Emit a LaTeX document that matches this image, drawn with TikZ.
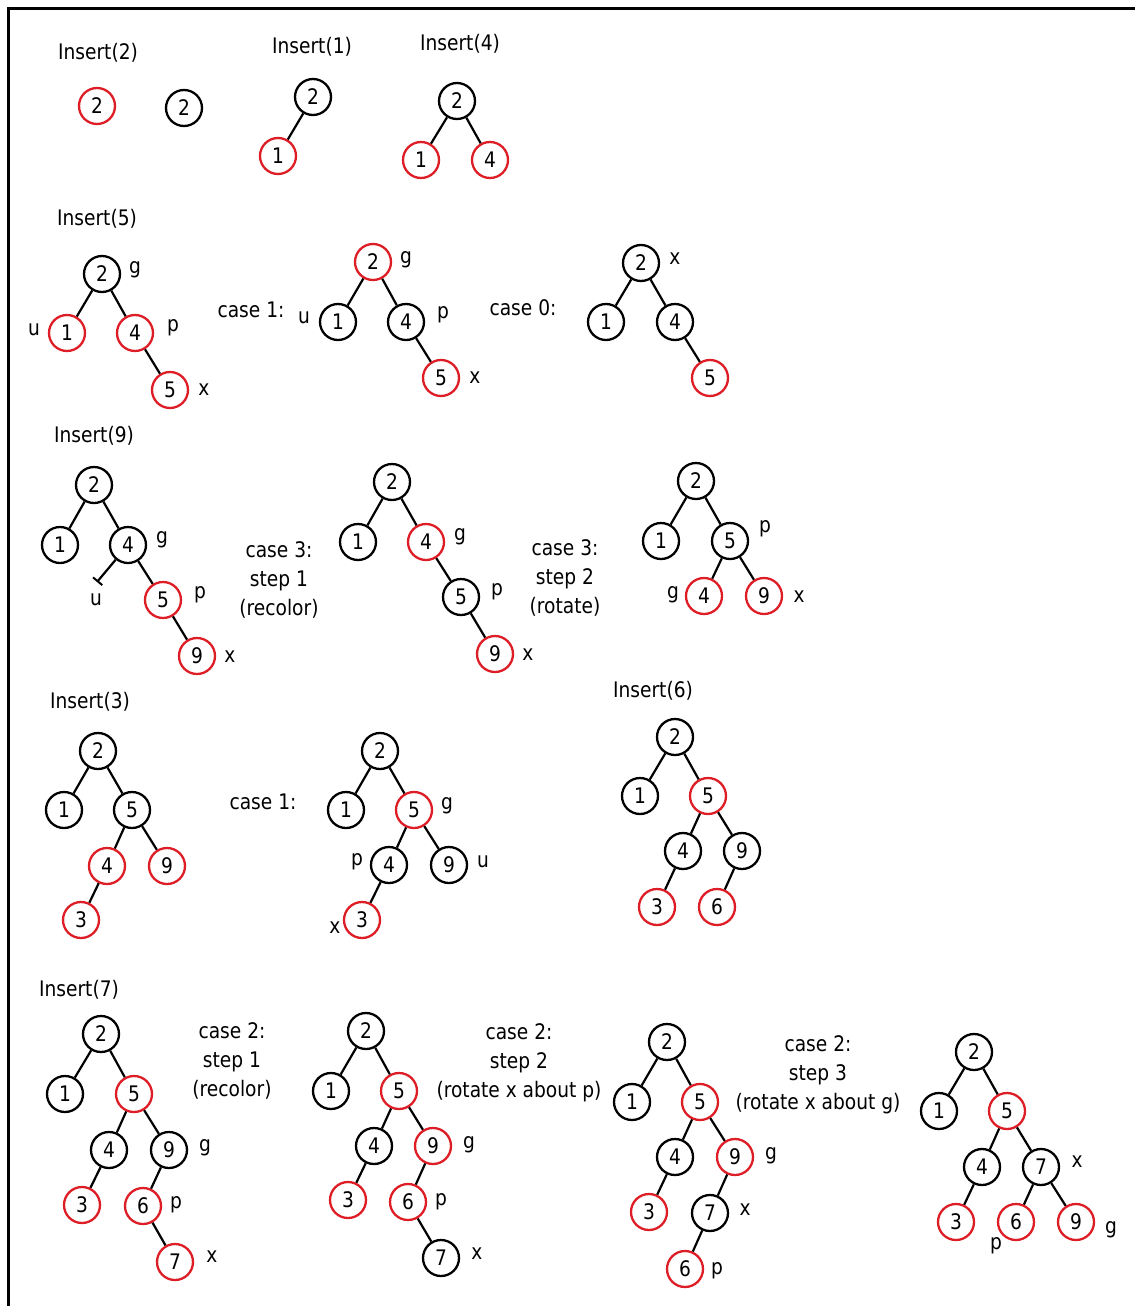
\documentclass[tikz,border=0pt]{standalone}
\usepackage{fontspec}
\setmainfont[FakeStretch=0.87]{DejaVu Sans}
\usetikzlibrary{arrows.meta}
\begin{document}
\begin{tikzpicture}[x=0.5pt,y=-0.5pt,
  bnode/.style={circle,draw=drawColor,line width=1.15pt,minimum size=18pt,inner sep=0pt,font=\fontsize{10.7}{12}\selectfont},
  rnode/.style={bnode,draw=redColor},
  lnk/.style={draw=drawColor,line width=1.1pt,line join=round},
  lbl/.style={inner sep=0pt,font=\fontsize{10.7}{12}\selectfont},
  txt/.style={inner sep=0pt,align=center,font=\fontsize{10.7}{14.5}\selectfont}]
\definecolor{fillColor}{RGB}{255,255,255}
\definecolor{drawColor}{RGB}{0,0,0}
\definecolor{redColor}{RGB}{222,30,38}
\path[use as bounding box,fill=fillColor] (0,0) rectangle (1135,1306);

\path[draw=drawColor,line width=1.5pt] (8,1306) -- (8,8) -- (1135,8);

\node[lbl] (tIns2) at ( 98, 53) {Insert(2)};
\node[rnode] (a2) at ( 97,106) {2};
\node[bnode] (b2) at (184,108) {2};

\node[lbl] (tIns1) at (312, 47) {Insert(1)};
\node[bnode] (c2) at (313, 97) {2};
\node[rnode] (c1) at (278,156) {1};
\path[lnk] (c2) -- (c1);

\node[lbl] (tIns4) at (460, 44) {Insert(4)};
\node[bnode] (d2) at (457,101) {2};
\node[rnode] (d1) at (421,160) {1};
\node[rnode] (d4) at (490,160) {4};
\path[lnk] (d2) -- (d1);
\path[lnk] (d2) -- (d4);

\node[lbl] (tIns5) at ( 97,219) {Insert(5)};
\node[bnode] (e2) at (102,274) {2};
\node[rnode] (e1) at ( 67,333) {1};
\node[rnode] (e4) at (135,333) {4};
\node[rnode] (e5) at (170,390) {5};
\path[lnk] (e2) -- (e1);
\path[lnk] (e2) -- (e4);
\path[lnk] (e4) -- (e5);
\node[lbl] (eg) at (135,270) {g};
\node[lbl] (eu) at ( 34,330) {u};
\node[lbl] (ep) at (173,328) {p};
\node[lbl] (ex) at (204,390) {x};

\node[txt] (tCase1a) at (251,310) {case 1:};
\node[rnode] (f2) at (373,262) {2};
\node[bnode] (f1) at (338,322) {1};
\node[bnode] (f4) at (406,322) {4};
\node[rnode] (f5) at (441,378) {5};
\path[lnk] (f2) -- (f1);
\path[lnk] (f2) -- (f4);
\path[lnk] (f4) -- (f5);
\node[lbl] (fg) at (406,260) {g};
\node[lbl] (fu) at (304,318) {u};
\node[lbl] (fp) at (443,315) {p};
\node[lbl] (fx) at (475,378) {x};

\node[txt] (tCase0) at (523,308) {case 0:};
\node[bnode] (g2) at (641,263) {2};
\node[bnode] (g1) at (606,322) {1};
\node[bnode] (g4) at (675,322) {4};
\node[rnode] (g5) at (710,378) {5};
\path[lnk] (g2) -- (g1);
\path[lnk] (g2) -- (g4);
\path[lnk] (g4) -- (g5);
\node[lbl] (gx) at (675,259) {x};

\node[lbl] (tIns9) at ( 94,436) {Insert(9)};
\node[bnode] (h2) at ( 94,485) {2};
\node[bnode] (h1) at ( 60,545) {1};
\node[bnode] (h4) at (128,545) {4};
\node[rnode] (h5) at (163,600) {5};
\node[rnode] (h9) at (197,656) {9};
\coordinate (hnil) at ( 97,582);
\path[lnk] (h2) -- (h1);
\path[lnk] (h2) -- (h4);
\path[lnk,-{Bar[width=6pt,line width=1pt]}] (h4) -- (hnil);
\path[lnk] (h4) -- (h5);
\path[lnk] (h5) -- (h9);
\node[lbl] (hg) at (162,540) {g};
\node[lbl] (hu) at ( 96,600) {u};
\node[lbl] (hp) at (200,595) {p};
\node[lbl] (hx) at (230,657) {x};

\node[txt] (tCase3a) at (279,580) {case 3:\\step 1\\(recolor)};
\node[bnode] (i2) at (392,482) {2};
\node[bnode] (i1) at (358,542) {1};
\node[rnode] (i4) at (426,542) {4};
\node[bnode] (i5) at (461,597) {5};
\node[rnode] (i9) at (495,654) {9};
\path[lnk] (i2) -- (i1);
\path[lnk] (i2) -- (i4);
\path[lnk] (i4) -- (i5);
\path[lnk] (i5) -- (i9);
\node[lbl] (ig) at (460,537) {g};
\node[lbl] (ip) at (497,592) {p};
\node[lbl] (ix) at (528,655) {x};

\node[txt] (tCase3b) at (565,578) {case 3:\\step 2\\(rotate)};
\node[bnode] (j2) at (696,481) {2};
\node[bnode] (j1) at (661,541) {1};
\node[bnode] (j5) at (730,541) {5};
\node[rnode] (j4) at (704,596) {4};
\node[rnode] (j9) at (764,596) {9};
\path[lnk] (j2) -- (j1);
\path[lnk] (j2) -- (j5);
\path[lnk] (j5) -- (j4);
\path[lnk] (j5) -- (j9);
\node[lbl] (jp) at (765,529) {p};
\node[lbl] (jg) at (673,595) {g};
\node[lbl] (jx) at (799,597) {x};

\node[lbl] (tIns3) at ( 90,702) {Insert(3)};
\node[bnode] (k2) at ( 98,751) {2};
\node[bnode] (k1) at ( 64,810) {1};
\node[bnode] (k5) at (132,810) {5};
\node[rnode] (k4) at (107,866) {4};
\node[rnode] (k9) at (167,866) {9};
\node[rnode] (k3) at ( 81,920) {3};
\path[lnk] (k2) -- (k1);
\path[lnk] (k2) -- (k5);
\path[lnk] (k5) -- (k4);
\path[lnk] (k5) -- (k9);
\path[lnk] (k4) -- (k3);

\node[txt] (tCase1b) at (263,802) {case 1:};
\node[bnode] (l2) at (380,751) {2};
\node[bnode] (l1) at (346,810) {1};
\node[rnode] (l5) at (414,810) {5};
\node[bnode] (l4) at (389,865) {4};
\node[bnode] (l9) at (449,865) {9};
\node[rnode] (l3) at (362,920) {3};
\path[lnk] (l2) -- (l1);
\path[lnk] (l2) -- (l5);
\path[lnk] (l5) -- (l4);
\path[lnk] (l5) -- (l9);
\path[lnk] (l4) -- (l3);
\node[lbl] (lg) at (447,806) {g};
\node[lbl] (lp) at (357,862) {p};
\node[lbl] (lu) at (483,862) {u};
\node[lbl] (lx) at (335,928) {x};

\node[lbl] (tIns6) at (653,691) {Insert(6)};
\node[bnode] (m2) at (675,737) {2};
\node[bnode] (m1) at (640,796) {1};
\node[rnode] (m5) at (708,796) {5};
\node[bnode] (m4) at (683,851) {4};
\node[bnode] (m9) at (742,851) {9};
\node[rnode] (m3) at (657,907) {3};
\node[rnode] (m6) at (717,907) {6};
\path[lnk] (m2) -- (m1);
\path[lnk] (m2) -- (m5);
\path[lnk] (m5) -- (m4);
\path[lnk] (m5) -- (m9);
\path[lnk] (m4) -- (m3);
\path[lnk] (m9) -- (m6);

\node[lbl] (tIns7) at ( 79,990) {Insert(7)};
\node[bnode] (n2) at (101,1034) {2};
\node[bnode] (n1) at ( 65,1094) {1};
\node[rnode] (n5) at (134,1094) {5};
\node[bnode] (n4) at (109,1150) {4};
\node[bnode] (n9) at (169,1150) {9};
\node[rnode] (n3) at ( 82,1205) {3};
\node[rnode] (n6) at (143,1206) {6};
\node[rnode] (n7) at (175,1262) {7};
\path[lnk] (n2) -- (n1);
\path[lnk] (n2) -- (n5);
\path[lnk] (n5) -- (n4);
\path[lnk] (n5) -- (n9);
\path[lnk] (n4) -- (n3);
\path[lnk] (n9) -- (n6);
\path[lnk] (n6) -- (n7);
\node[lbl] (ng) at (205,1148) {g};
\node[lbl] (np) at (176,1205) {p};
\node[lbl] (nx) at (212,1257) {x};

\node[txt] (tCase2a) at (232,1061) {case 2:\\step 1\\(recolor)};
\node[bnode] (o2) at (366,1031) {2};
\node[bnode] (o1) at (331,1091) {1};
\node[rnode] (o5) at (399,1091) {5};
\node[bnode] (o4) at (374,1146) {4};
\node[rnode] (o9) at (433,1146) {9};
\node[rnode] (o3) at (348,1200) {3};
\node[rnode] (o6) at (408,1202) {6};
\node[bnode] (o7) at (441,1258) {7};
\path[lnk] (o2) -- (o1);
\path[lnk] (o2) -- (o5);
\path[lnk] (o5) -- (o4);
\path[lnk] (o5) -- (o9);
\path[lnk] (o4) -- (o3);
\path[lnk] (o9) -- (o6);
\path[lnk] (o6) -- (o7);
\node[lbl] (og) at (469,1145) {g};
\node[lbl] (op) at (441,1202) {p};
\node[lbl] (ox) at (477,1254) {x};

\node[txt] (tCase2b) at (519,1063) {case 2:\\step 2\\(rotate x about p)};
\node[bnode] (p2) at (667,1042) {2};
\node[bnode] (p1) at (632,1102) {1};
\node[rnode] (p5) at (700,1102) {5};
\node[bnode] (p4) at (675,1157) {4};
\node[rnode] (p9) at (735,1157) {9};
\node[rnode] (p3) at (649,1212) {3};
\node[bnode] (p7) at (710,1213) {7};
\node[rnode] (p6) at (685,1269) {6};
\path[lnk] (p2) -- (p1);
\path[lnk] (p2) -- (p5);
\path[lnk] (p5) -- (p4);
\path[lnk] (p5) -- (p9);
\path[lnk] (p4) -- (p3);
\path[lnk] (p9) -- (p7);
\path[lnk] (p7) -- (p6);
\node[lbl] (pg) at (771,1156) {g};
\node[lbl] (px) at (745,1210) {x};
\node[lbl] (pp) at (717,1271) {p};

\node[txt] (tCase2c) at (818,1075) {case 2:\\step 3\\(rotate x about g)};
\node[bnode] (q2) at (974,1052) {2};
\node[bnode] (q1) at (939,1111) {1};
\node[rnode] (q5) at (1007,1111) {5};
\node[bnode] (q4) at (982,1167) {4};
\node[bnode] (q7) at (1041,1167) {7};
\node[rnode] (q3) at (956,1222) {3};
\node[rnode] (q6) at (1016,1222) {6};
\node[rnode] (q9) at (1076,1222) {9};
\path[lnk] (q2) -- (q1);
\path[lnk] (q2) -- (q5);
\path[lnk] (q5) -- (q4);
\path[lnk] (q5) -- (q7);
\path[lnk] (q4) -- (q3);
\path[lnk] (q7) -- (q6);
\path[lnk] (q7) -- (q9);
\node[lbl] (qx) at (1077,1162) {x};
\node[lbl] (qp) at (996,1246) {p};
\node[lbl] (qg) at (1111,1230) {g};
\end{tikzpicture}
\end{document}
